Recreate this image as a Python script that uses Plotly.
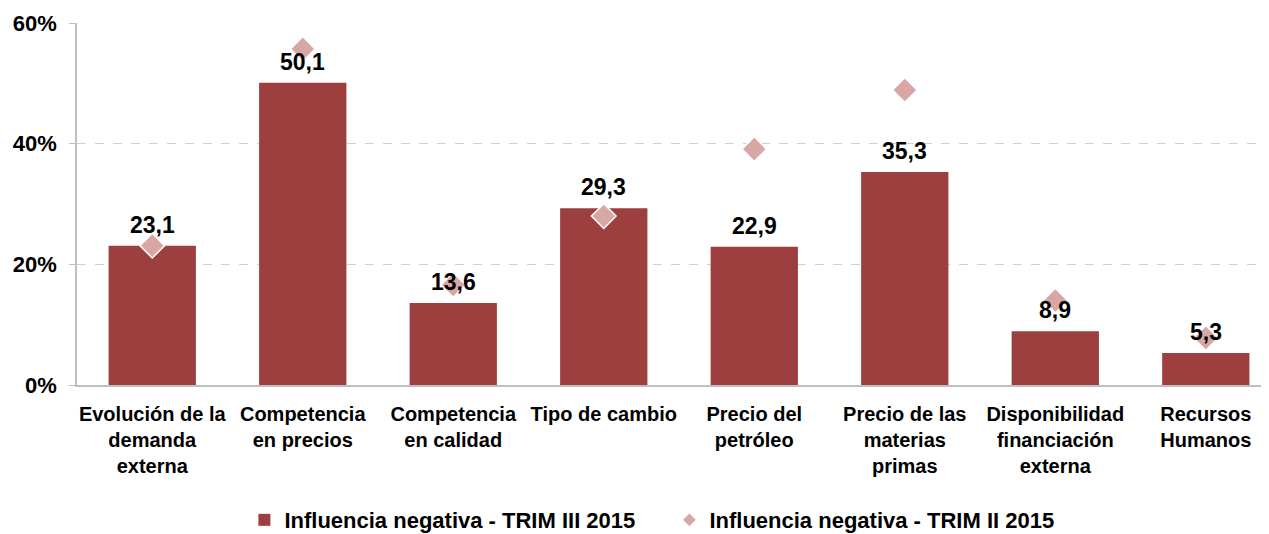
import plotly.graph_objects as go

categories = [
    "Evolución de la<br>demanda<br>externa",
    "Competencia<br>en precios",
    "Competencia<br>en calidad",
    "Tipo de cambio",
    "Precio del<br>petróleo",
    "Precio de las<br>materias<br>primas",
    "Disponibilidad<br>financiación<br>externa",
    "Recursos<br>Humanos",
]
trim3_2015 = [23.1, 50.1, 13.6, 29.3, 22.9, 35.3, 8.9, 5.3]
trim2_2015 = [23.1, 55.7, 16.6, 28.0, 39.1, 48.9, 14.0, 7.8]
y_ticks = [0, 20, 40, 60]
y_ticklabels = ["0%", "20%", "40%", "60%"]

FONT = "Liberation Sans, Arial, sans-serif"
BAR_COLOR = "#9E3F3F"
DIAMOND_COLOR = "#D9A6A6"

fig = go.Figure()
fig.add_trace(go.Bar(
    x=list(range(len(categories))), y=trim3_2015,
    name="<b>Influencia negativa - TRIM III 2015</b>",
    marker=dict(color=BAR_COLOR, line=dict(width=0)),
    width=0.58,
))
fig.add_trace(go.Scatter(
    x=list(range(len(categories))), y=trim2_2015,
    name="<b>Influencia negativa - TRIM II 2015</b>",
    mode="markers",
    marker=dict(symbol="diamond", size=19, color=DIAMOND_COLOR,
                line=dict(color="white", width=1.5)),
))

for i, v in enumerate(trim3_2015):
    fig.add_annotation(
        x=i, y=v, text="<b>" + f"{v:.1f}".replace(".", ",") + "</b>",
        showarrow=False, yanchor="middle", yshift=21,
        font=dict(family=FONT, size=23, color="black"),
    )

fig.update_layout(
    width=1261, height=526,
    margin=dict(l=69, r=0, t=15, b=149, autoexpand=False),
    plot_bgcolor="white", paper_bgcolor="white",
    bargap=0.42,
    showlegend=True,
    legend=dict(orientation="h", x=0.497, xanchor="center", y=-0.373,
                yanchor="middle", font=dict(family=FONT, size=22, color="black"),
                itemwidth=30, itemsizing="constant", entrywidth=380,
                tracegroupgap=0),
    font=dict(family=FONT, color="black"),
)
fig.update_xaxes(
    range=[-0.5, 7.42], automargin=False,
    tickmode="array", tickvals=list(range(len(categories))),
    ticktext=["<b>" + c + "</b>" for c in categories],
    tickfont=dict(family=FONT, size=20, color="black"),
    showgrid=False, zeroline=False,
    showline=True, linecolor="#BFBFBF", linewidth=2,
    ticks="", ticklabelstandoff=10,
)
fig.update_yaxes(
    range=[0, 60], automargin=False,
    tickmode="array", tickvals=y_ticks,
    ticktext=["<b>" + t + "</b>" for t in y_ticklabels],
    tickfont=dict(family=FONT, size=22, color="black"),
    showgrid=True, gridcolor="#D0D0D0", griddash="dash", gridwidth=1,
    zeroline=False,
    showline=True, linecolor="#BFBFBF", linewidth=1.5,
    ticks="outside", ticklen=6, tickcolor="#BFBFBF",
    ticklabelstandoff=8,
)
fig.write_html("out.html")
